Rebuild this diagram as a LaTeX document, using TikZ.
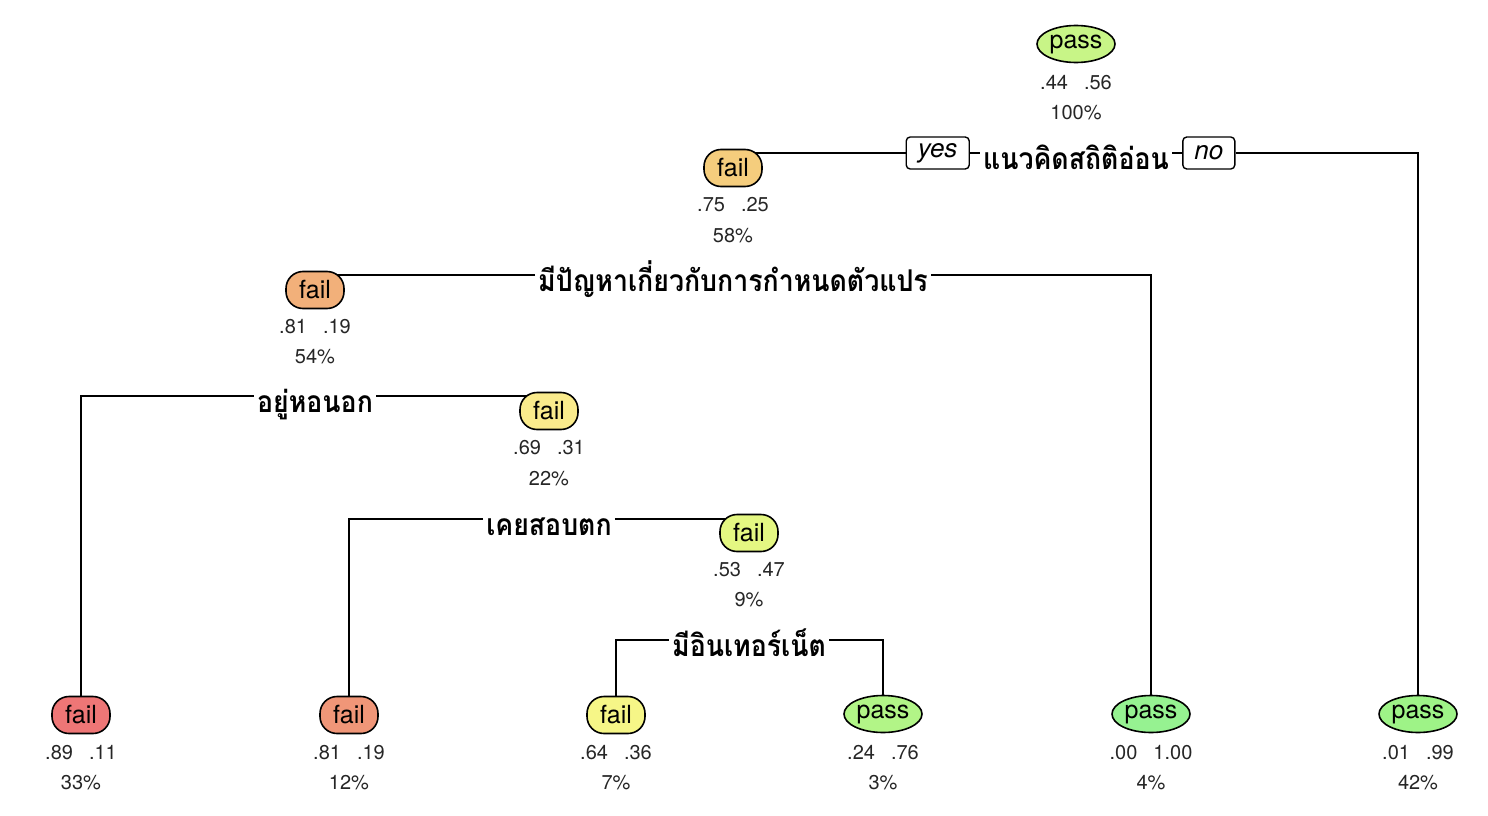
\documentclass[tikz,border=0pt]{standalone}
\usepackage{fontspec}
\setmainfont{TeX Gyre Heros}
\newfontfamily\thaifont[Script=Thai,FakeStretch=0.89]{Loma}
\usetikzlibrary{shapes.geometric,backgrounds}
\definecolor{cA}{HTML}{C8F587}
\definecolor{cB}{HTML}{F5CD7D}
\definecolor{cC}{HTML}{F2B07A}
\definecolor{cD}{HTML}{FAEB8C}
\definecolor{cE}{HTML}{E4F782}
\definecolor{cL1}{HTML}{EE7676}
\definecolor{cL2}{HTML}{F09678}
\definecolor{cL3}{HTML}{F6F687}
\definecolor{cL4}{HTML}{B2F587}
\definecolor{cL5}{HTML}{96F291}
\definecolor{cL6}{HTML}{9EF387}
\tikzset{
  passbox/.style={ellipse, draw=black, line width=1.6pt, minimum width=78pt, minimum height=37pt, inner sep=0pt, font=\fontsize{25}{25}\selectfont},
  failbox/.style={rectangle, rounded corners=17pt, draw=black, line width=1.6pt, minimum width=58pt, minimum height=37pt, inner sep=0pt, font=\fontsize{25}{25}\selectfont},
  info/.style={font=\fontsize{20}{20}\selectfont, inner sep=0pt, text=black!85},
  splitlbl/.style={font=\thaifont\bfseries\fontsize{30}{30}\selectfont, inner xsep=3pt, inner ysep=0pt, anchor=base},
  ynbox/.style={rectangle, rounded corners=4pt, draw=black, line width=1.4pt, fill=white, minimum height=32pt, inner xsep=0pt, font=\itshape\fontsize{26}{26}\selectfont},
  edge/.style={line width=1.8pt},
}
\begin{document}
\begin{tikzpicture}[x=1pt,y=-1pt]
\useasboundingbox (0,0) rectangle (1488,816);
% internal nodes
\node[passbox, fill=cA] (n1) at (1076,44) {pass};
\node[info] (n1p) at (1076,83) {.44\hspace{0.8em}.56};
\node[info] (n1c) at (1076,113) {100\%};
\node[failbox, fill=cB] (n2) at (733,168) {fail};
\node[info] (n2p) at (733,205) {.75\hspace{0.8em}.25};
\node[info] (n2c) at (733,236) {58\%};
\node[failbox, fill=cC] (n3) at (315,290) {fail};
\node[info] (n3p) at (315,327) {.81\hspace{0.8em}.19};
\node[info] (n3c) at (315,357) {54\%};
\node[failbox, fill=cD] (n4) at (549,411) {fail};
\node[info] (n4p) at (549,448) {.69\hspace{0.8em}.31};
\node[info] (n4c) at (549,479) {22\%};
\node[failbox, fill=cE] (n5) at (749,533) {fail};
\node[info] (n5p) at (749,570) {.53\hspace{0.8em}.47};
\node[info] (n5c) at (749,600) {9\%};
% leaves
\node[failbox, fill=cL1] (l1) at (81,715) {fail};
\node[info] (l1p) at (81,753) {.89\hspace{0.8em}.11};
\node[info] (l1c) at (81,783) {33\%};
\node[failbox, fill=cL2] (l2) at (349,715) {fail};
\node[info] (l2p) at (349,753) {.81\hspace{0.8em}.19};
\node[info] (l2c) at (349,783) {12\%};
\node[failbox, fill=cL3] (l3) at (616,715) {fail};
\node[info] (l3p) at (616,753) {.64\hspace{0.8em}.36};
\node[info] (l3c) at (616,783) {7\%};
\node[passbox, fill=cL4] (l4) at (883,714) {pass};
\node[info] (l4p) at (883,753) {.24\hspace{0.8em}.76};
\node[info] (l4c) at (883,783) {3\%};
\node[passbox, fill=cL5] (l5) at (1151,714) {pass};
\node[info] (l5p) at (1151,753) {.00\hspace{0.8em}1.00};
\node[info] (l5c) at (1151,783) {4\%};
\node[passbox, fill=cL6] (l6) at (1418,714) {pass};
\node[info] (l6p) at (1418,753) {.01\hspace{0.8em}.99};
\node[info] (l6c) at (1418,783) {42\%};
% split lines y
\coordinate (y1) at (1076,153);
\coordinate (y2) at (733,275);
\coordinate (y3) at (315,396);
\coordinate (y4) at (549,519);
\coordinate (y5) at (749,640);
% split labels
\node[splitlbl] (s1) at (1076,169) {แนวคิดสถิติอ่อน};
\node[ynbox, minimum width=63pt, anchor=east] (yes) at ([xshift=-10pt]s1.west |- y1) {yes};
\node[ynbox, minimum width=52pt, anchor=west] (no) at ([xshift=10pt]s1.east |- y1) {no};
\node[splitlbl] (s2) at (733,291) {มีปัญหาเกี่ยวกับการกำหนดตัวแปร};
\node[splitlbl] (s3) at (315,412) {อยู่หอนอก};
\node[splitlbl] (s4) at (549,535) {เคยสอบตก};
\node[splitlbl] (s5) at (749,656) {มีอินเทอร์เน็ต};
\begin{pgfonlayer}{background}
\draw[edge] (yes.west) -- (yes.west -| n2.center);
\draw[edge] (yes.east) -- (s1.west |- y1);
\draw[edge] (s1.east |- y1) -- (no.west);
\draw[edge] (no.east) -- (no.east -| l6.center) -- (l6.north);
\draw[edge] (s2.west |- y2) -- (y2 -| n3.center);
\draw[edge] (s2.east |- y2) -- (y2 -| l5.center) -- (l5.north);
\draw[edge] (s3.west |- y3) -- (y3 -| l1.center) -- (l1.north);
\draw[edge] (s3.east |- y3) -- (y3 -| n4.center);
\draw[edge] (s4.west |- y4) -- (y4 -| l2.center) -- (l2.north);
\draw[edge] (s4.east |- y4) -- (y4 -| n5.center);
\draw[edge] (s5.west |- y5) -- (y5 -| l3.center) -- (l3.north);
\draw[edge] (s5.east |- y5) -- (y5 -| l4.center) -- (l4.north);
\end{pgfonlayer}
\end{tikzpicture}
\end{document}
